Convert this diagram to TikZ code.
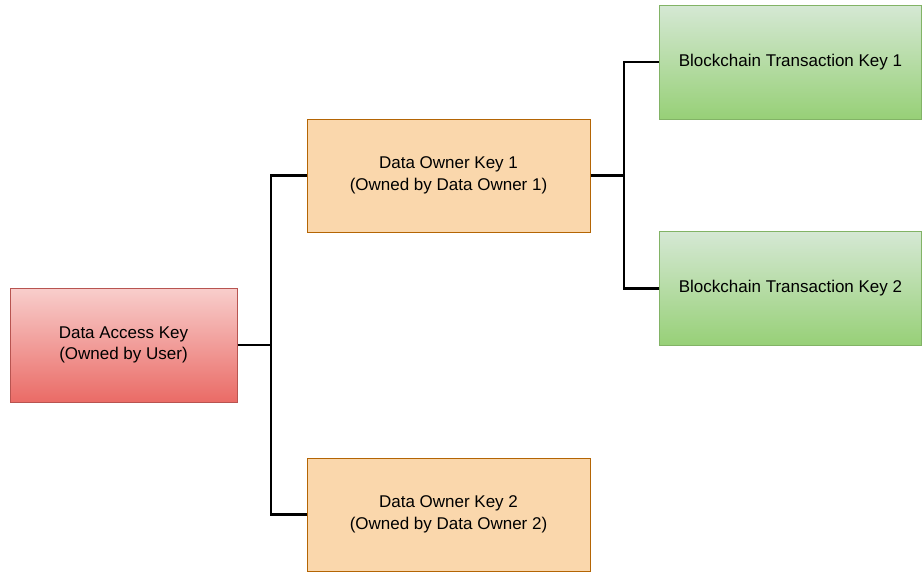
\documentclass[tikz,border=0pt]{standalone}
\usepackage{fontspec}
\setmainfont{Liberation Sans}
\begin{document}
\begin{tikzpicture}[x=1pt,y=-1pt,
  keybox/.style={draw, line width=1pt, inner sep=0pt, align=center,
    font=\fontsize{17}{21.5}\selectfont, text=black},
  redbox/.style={keybox, top color=red1, bottom color=red2, draw=redline},
  orangebox/.style={keybox, fill=orangefill, draw=orangeline},
  greenbox/.style={keybox, top color=green1, bottom color=green2, draw=greenline},
  conn/.style={line width=2.5pt, black}]
\definecolor{red1}{HTML}{F8CECC}
\definecolor{red2}{HTML}{EA6B66}
\definecolor{redline}{HTML}{B85450}
\definecolor{orangefill}{HTML}{FAD7AC}
\definecolor{orangeline}{HTML}{B46504}
\definecolor{green1}{HTML}{D5E8D4}
\definecolor{green2}{HTML}{97D077}
\definecolor{greenline}{HTML}{82B366}
\useasboundingbox (0,0) rectangle (922,571);
\node[redbox, minimum width=227pt, minimum height=114pt] (dak) at (123.5,345) {Data Access Key\\(Owned by User)};
\node[orangebox, minimum width=283pt, minimum height=113pt] (dok1) at (448.5,175.5) {Data Owner Key 1\\(Owned by Data Owner 1)};
\node[orangebox, minimum width=283pt, minimum height=113pt] (dok2) at (448.5,514.5) {Data Owner Key 2\\(Owned by Data Owner 2)};
\node[greenbox, minimum width=262pt, minimum height=114pt] (btk1) at (790.5,62) {Blockchain Transaction Key 1};
\node[greenbox, minimum width=262pt, minimum height=114pt] (btk2) at (790.5,288.5) {Blockchain Transaction Key 2};
\coordinate (j1) at (271,345);
\coordinate (j2) at (624,175.5);
\draw[conn] (dak.east) -- (j1);
\draw[conn] (j1) |- (dok1.west);
\draw[conn] (j1) |- (dok2.west);
\draw[conn] (dok1.east) -- (j2);
\draw[conn] (j2) |- (btk1.west);
\draw[conn] (j2) |- (btk2.west);
\end{tikzpicture}
\end{document}
